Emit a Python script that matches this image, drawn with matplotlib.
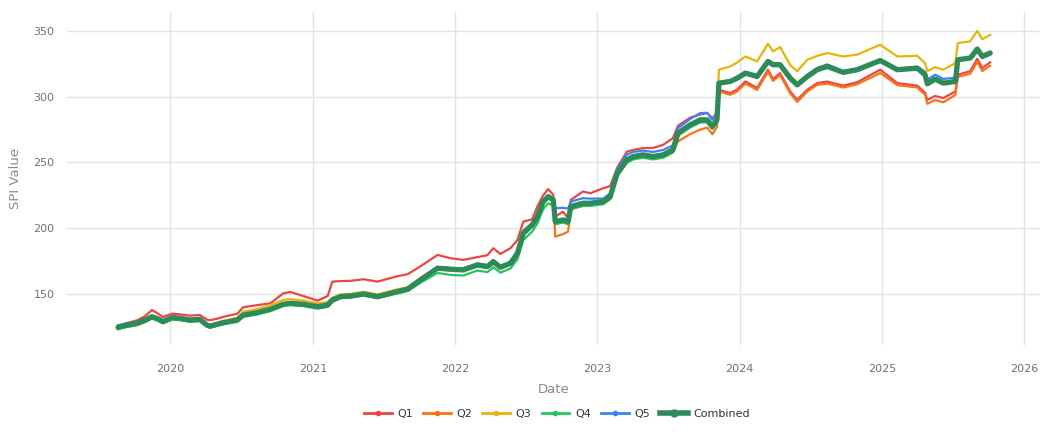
import matplotlib
matplotlib.use("Agg")
import matplotlib.pyplot as plt
from matplotlib.lines import Line2D
import pandas as pd

dates = ["2019-08-20","2019-09-07","2019-10-08","2019-10-28","2019-11-15","2019-12-01","2019-12-13",
         "2020-01-06","2020-01-26","2020-02-21","2020-03-17","2020-04-04","2020-04-12","2020-04-30",
         "2020-05-15","2020-06-21","2020-07-06","2020-08-11","2020-09-14","2020-10-17","2020-11-04",
         "2020-12-07","2021-01-13","2021-02-08","2021-02-20","2021-03-13","2021-04-08","2021-05-11",
         "2021-06-16","2021-08-06","2021-09-01","2021-10-04","2021-11-17","2021-12-20","2022-01-22",
         "2022-02-27","2022-03-25","2022-04-09","2022-04-27","2022-05-23","2022-06-10","2022-06-25",
         "2022-07-18","2022-07-31","2022-08-15","2022-08-28","2022-09-10","2022-09-15","2022-10-05",
         "2022-10-18","2022-10-25","2022-11-25","2022-12-14","2023-01-16","2023-02-03","2023-02-21",
         "2023-03-18","2023-04-03","2023-04-28","2023-05-24","2023-06-19","2023-07-14","2023-07-27",
         "2023-08-27","2023-09-22","2023-10-10","2023-10-23","2023-11-04","2023-11-09","2023-12-08",
         "2023-12-26","2024-01-16","2024-02-15","2024-03-14","2024-03-27","2024-04-14","2024-05-10",
         "2024-05-28","2024-06-23","2024-07-18","2024-08-13","2024-09-23","2024-10-29","2024-12-27",
         "2025-02-09","2025-04-01","2025-04-21","2025-04-27","2025-05-17","2025-06-07","2025-07-08",
         "2025-07-14","2025-08-15","2025-09-02","2025-09-15","2025-10-05"]

combined = [124.6,126,127.7,130,132.7,131,129,132,131.5,130.2,130.7,126.4,125.6,127,128.2,130.2,134,135.8,
            138.4,142.2,142.9,142.2,140.3,141.6,145.4,148,148.5,150,148,151.8,153.6,160.7,169.6,168.8,
            168.3,172,170.8,174.6,170.3,173.4,181,196.2,202.5,208.8,220.2,224,221.5,205,206.3,205,216.5,
            219,219,220.2,224,241.8,252,254.5,255.8,254.5,255.8,259.6,272.3,278.6,282.4,282.4,277.3,
            282.4,310.3,311.6,314.1,317.9,315.4,326.8,324.3,324.3,314.1,309,315.4,320.5,323,318.5,320.5,
            327.5,320.5,321.7,316.7,309.8,313.4,310.3,311.6,328.1,329.4,336.2,330.6,333.2]

q1 = [125.5,127.5,130,133,137.8,135,132.5,135,134.5,133.5,134,130.5,130,131.2,132.5,135,139.9,141.5,
      142.9,150.5,151.5,148.5,144.9,148.5,159.4,159.8,160,161.2,159.4,163.5,165,171,179.7,177.2,175.9,
      178,179.5,184.8,180.4,184.8,191,205,206.8,216.4,225,229.7,225.3,208.8,212.6,207.6,221.5,227.9,
      226.6,230.4,232,246,258.3,259.5,260.9,261,263.4,268.5,278,284,286.5,287.5,283.7,287.5,305.3,
      302.7,305.5,311.6,306.6,320.5,313.5,317.9,304,297.6,305.3,310.3,311.5,308.4,311,320.5,310.3,
      308.4,303,297.6,300.5,299,304,316.7,319.4,328.8,321.8,326.1]

q2 = [124.2,125.5,127.2,129.6,132.2,130.5,128.6,131.5,131,129.8,130.2,126,125.2,126.6,127.8,129.8,133.6,
      135.4,138,141.8,142.5,141.8,139.9,141.2,145,147.6,148.1,149.6,147.6,151.4,153.2,160.3,169.1,168.2,
      167.6,171.2,170,173.8,169.5,172.6,179.5,195,201.5,207.8,219.5,223.3,220.8,193.6,195.5,197.4,214.5,
      217,217.5,219,222.5,240.5,251,253.5,254.8,253.5,254.8,258.3,266,271.5,275,276.5,271.5,277,304,
      301.5,304,310,305.2,319,312,316.5,302.5,296,304,309,310,307,309.5,318,308.8,307,301.5,294.6,
      297.5,295.7,301.4,315,317.5,326.5,319.5,323.5]

q3 = [124.5,126,127.8,130.2,133,131.3,129.3,132.3,131.8,130.5,131,126.8,126.2,127.8,129.3,132,136.5,138.6,
      141.4,145.5,146,145,142.8,143.8,147.2,149.6,150.1,151.6,149.6,153.5,155.2,161.8,170,169,168.5,
      172.2,171,174.8,170.5,173.6,181.2,196.5,202.8,209,220.5,224.2,221.8,205.5,206.8,205.5,216.8,219.3,
      219.3,220.5,224.3,242,252.3,254.8,256,254.8,256,260,272.6,279,282.8,282.8,277.6,282.8,320.5,323,
      326,330.6,326.8,340.3,334.4,337.8,324,319.4,328.1,331,333.2,330.6,332,339.5,330.6,331.1,325.5,
      319.4,322.5,320.5,325.6,340.8,342.1,350.1,343.7,347]

q4 = [123.2,124.6,126.3,128.6,131.3,129.6,127.6,130.6,130.1,128.8,129.3,125,124.2,125.6,126.8,128.8,132.6,
      134.4,137,140.8,141.5,140.8,138.9,140.2,144,146.8,147.3,148.8,146.8,150.5,152.2,158.5,166,164.5,
      164,167.8,166.6,170.4,166.2,169.4,176.5,191,197.5,203.5,214.5,219,217,203,204.3,203,214.5,217,
      217,218.2,222,239.5,249.8,252.3,253.6,252.3,253.6,257.5,270.3,276.6,280.4,280.4,275.5,280.4,310,
      311.3,313.8,317.6,315.1,326.5,324,324,313.8,308.7,315.1,320.2,322.7,318.2,320.2,327.2,320.2,321.4,
      316.4,309.5,313.1,310,311.3,327.8,329.1,335.9,330.3,332.9]

q5 = [126.2,127.4,128.8,131,133.5,131.8,129.8,133,132.4,131,131.3,126.9,126.1,127.5,128.7,130.6,134.4,136.2,
      138.8,142.6,143.3,142.6,140.7,142,145.8,148.3,148.8,150.3,148.3,152.1,153.9,161,170.5,169.8,169.5,
      173.3,172,175.6,171.2,174.2,182.5,198,204,210.5,221.5,225,222.5,215.2,215.5,215,220.2,222.8,222.5,
      222.5,226.5,245,256,258,259,258,259.5,263,276,283,287.5,287.8,282.5,287,311,312.4,315,318.8,316.3,
      327.8,325.3,325.3,315.2,310,316.5,321.8,324.5,319.5,321.5,328,321.3,322.8,319,313,316.7,313.5,
      314.5,328,328.9,335.5,329.6,332]

series_names = ["Q1", "Q2", "Q3", "Q4", "Q5"]
series_values = [q1, q2, q3, q4, q5]
series_colors = ["#ef4444", "#f97316", "#eab308", "#22c55e", "#3b82f6"]
combined_color = "#2e8b57"

x = pd.to_datetime(dates)

fig = plt.figure(figsize=(10.48, 4.32), dpi=100)
ax = fig.add_axes([67/1048, 1 - 345/432, (1040 - 67)/1048, (345 - 12)/432])

for name, vals, col in zip(series_names, series_values, series_colors):
    ax.plot(x, vals, color=col, lw=1.6, solid_joinstyle="round", zorder=3)
ax.plot(x, combined, color=combined_color, lw=3.8, solid_joinstyle="round",
        solid_capstyle="round", zorder=4)

ax.set_xlim(pd.Timestamp("2019-04-11"), pd.Timestamp("2026-02-10"))
ax.set_ylim(111.2, 364.4)
ax.set_yticks([150, 200, 250, 300, 350])
ax.set_xticks(pd.to_datetime(["2020-01-01", "2021-01-01", "2022-01-01", "2023-01-01",
                              "2024-01-01", "2025-01-01", "2026-01-01"]))
ax.set_xticklabels(["2020", "2021", "2022", "2023", "2024", "2025", "2026"])

for s in ax.spines.values():
    s.set_visible(False)
ax.grid(True, color="#e3e3e3", lw=1)
ax.set_axisbelow(True)
ax.tick_params(axis="both", length=0, labelsize=8, colors="#6e6e80")
ax.tick_params(axis="x", pad=14)
ax.tick_params(axis="y", pad=9)

ax.set_xlabel("Date", fontsize=9.5, color="#8a8a9a", labelpad=6)
ax.set_ylabel("SPI Value", fontsize=9.5, color="#8a8a9a", labelpad=8)

handles = [Line2D([0], [0], color=c, lw=2, marker="o", markersize=3) for c in series_colors]
handles.append(Line2D([0], [0], color=combined_color, lw=4, marker="o", markersize=5))
labels = series_names + ["Combined"]
fig.legend(handles, labels, loc="center", bbox_to_anchor=(557/1048, 1 - 414/432), ncol=6,
           frameon=False, fontsize=8, handlelength=2.5, handletextpad=0.5, columnspacing=0.9,
           labelcolor="#333333")

fig.savefig("out.png", dpi=100)
